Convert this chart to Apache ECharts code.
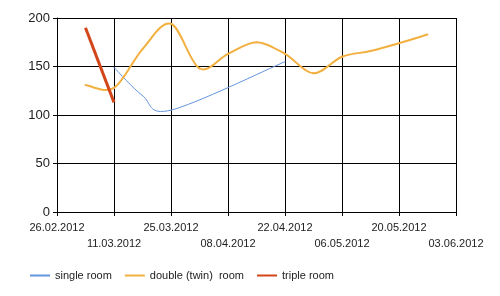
<!DOCTYPE html>
<html><head><meta charset="utf-8">
<script src="https://cdn.jsdelivr.net/npm/echarts@6/dist/echarts.min.js"></script>
<style>html,body{margin:0;padding:0;background:#fff}#c{width:500px;height:296px}</style>
</head><body><div id="c"></div>
<script>
var startDate = '2012-02-26';
var tickLabels = ['26.02.2012','11.03.2012','25.03.2012','08.04.2012','22.04.2012','06.05.2012','20.05.2012','03.06.2012'];
var singleDates = ['2012-03-11','2012-03-18','2012-03-25','2012-04-22'];
var singleValues = [149, 120, 105, 155];
var doubleDates = ['2012-03-04','2012-03-11','2012-03-18','2012-03-25','2012-04-01','2012-04-08','2012-04-15','2012-04-22','2012-04-29','2012-05-06','2012-05-13','2012-05-20','2012-05-27'];
var doubleValues = [131, 128, 168, 194, 148, 163, 175, 163, 143, 160, 166, 174, 183];
var tripleDates = ['2012-03-04','2012-03-11'];
var tripleValues = [190, 113];

function dayOffset(s){ return Math.round((Date.parse(s) - Date.parse(startDate)) / 86400000); }
function pairs(d, v){ return d.map(function(x,i){ return [dayOffset(x), v[i]]; }); }

var TENSION = 0.5;
function splineSeries(name, pts, color, width){
  return {
    name:name, type:'custom', data:pts, itemStyle:{color:color},
    renderItem:function(params, api){
      var i = params.dataIndex;
      if (i >= pts.length - 1) return null;
      var p0 = api.coord(pts[Math.max(i-1,0)]);
      var p1 = api.coord(pts[i]);
      var p2 = api.coord(pts[i+1]);
      var p3 = api.coord(pts[Math.min(i+2, pts.length-1)]);
      var k = TENSION/3;
      return {
        type:'bezierCurve',
        shape:{
          x1:p1[0], y1:p1[1], x2:p2[0], y2:p2[1],
          cpx1:p1[0] + k*(p2[0]-p0[0]), cpy1:p1[1] + k*(p2[1]-p0[1]),
          cpx2:p2[0] - k*(p3[0]-p1[0]), cpy2:p2[1] - k*(p3[1]-p1[1])
        },
        style:{stroke:color, lineWidth:width, fill:null, lineCap:'round', lineJoin:'round'}
      };
    }
  };
}

var font = 'Liberation Sans, Arial, sans-serif';
var chart = echarts.init(document.getElementById('c'), null, {renderer:'canvas'});
chart.setOption({
  animation:false,
  grid:{left:57, right:44, top:18, bottom:84, containLabel:false},
  legend:{
    left:25, top:265, icon:'rect', itemWidth:20, itemHeight:2, itemGap:13,
    textStyle:{fontFamily:font, fontSize:11, color:'#222'},
    data:['single room','double (twin)  room','triple room']
  },
  xAxis:{
    type:'value', min:0, max:98, interval:14,
    axisLine:{show:true, lineStyle:{color:'#000', width:1}},
    axisTick:{show:true, length:4, lineStyle:{color:'#000'}},
    splitLine:{show:true, lineStyle:{color:'#000', width:1}},
    axisLabel:{
      margin:8, fontFamily:font, fontSize:11, color:'#222', lineHeight:16,
      formatter:function(v){ var i = Math.round(v/14); var s = tickLabels[i]||''; return i%2 ? '\n'+s : s; }
    }
  },
  yAxis:{
    type:'value', min:0, max:200, interval:50,
    axisLine:{show:true, lineStyle:{color:'#000', width:1}},
    axisTick:{show:true, length:4, lineStyle:{color:'#000'}},
    splitLine:{show:true, lineStyle:{color:'#000', width:1}},
    axisLabel:{margin:7, fontFamily:font, fontSize:13, color:'#222'}
  },
  series:[
    splineSeries('single room', pairs(singleDates, singleValues), '#6494dc', 1),
    splineSeries('double (twin)  room', pairs(doubleDates, doubleValues), '#f2b040', 2),
    {name:'triple room', type:'line', smooth:false, showSymbol:false, symbol:'none',
     data:pairs(tripleDates, tripleValues), lineStyle:{color:'#d2461a', width:3}, itemStyle:{color:'#d2461a'}}
  ]
});
</script></body></html>
